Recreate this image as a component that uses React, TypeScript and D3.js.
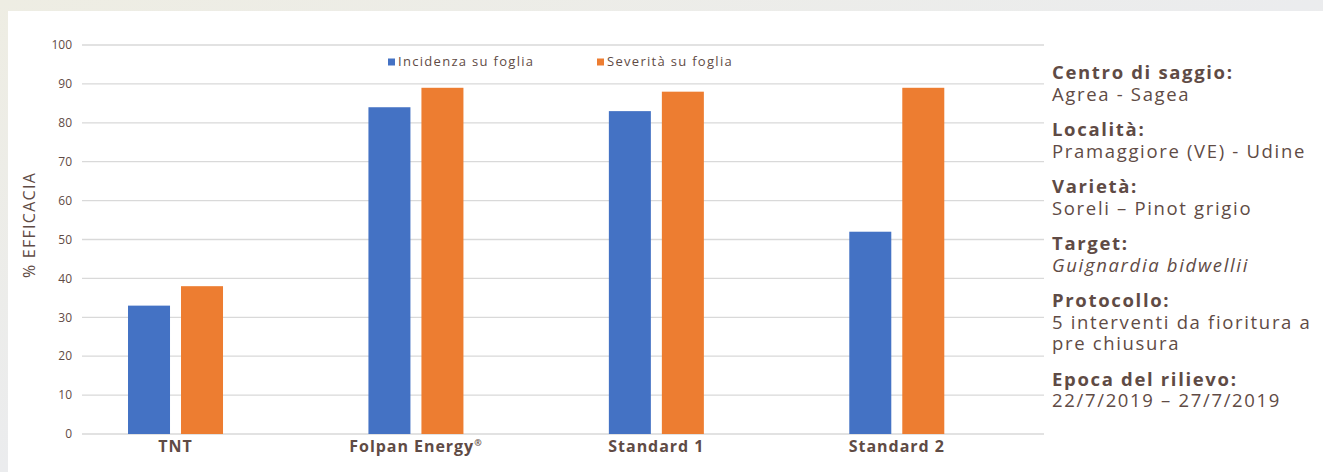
import * as d3 from "d3";

// chart data
const categories = ["TNT", "Folpan Energy", "Standard 1", "Standard 2"];
const seriesNames = ["Incidenza su foglia", "Severità su foglia"];
const incidenza = [33, 84, 83, 52];
const severita = [38, 89, 88, 89];
const seriesColors = ["#4472c4", "#ed7d31"];

// side notes
const noteTitles = ["Centro di saggio:", "Località:", "Varietà:", "Target:", "Protocollo:", "Epoca del rilievo:"];
const noteBodies = [
  ["Agrea - Sagea"],
  ["Pramaggiore (VE) - Udine"],
  ["Soreli – Pinot grigio"],
  ["Guignardia bidwellii"],
  ["5 interventi da fioritura a", "pre chiusura"],
  ["22/7/2019 – 27/7/2019"],
];

const W = 1323;
const H = 472;
const textColor = "#5f4b45";
const font = "'Open Sans', Lato, sans-serif";

const App = () => {
  const y = d3.scaleLinear().domain([0, 100]).range([434, 45]);
  const x = d3.scaleBand<string>().domain(categories).range([55.3, 1017]);
  const xs = d3
    .scaleBand<string>()
    .domain(seriesNames)
    .range([-53, 53])
    .paddingInner(0.2075)
    .paddingOuter(0.10375);

  const values = [incidenza, severita];
  const ticks = y.ticks(10);

  let lineY = 79;
  const notes: { text: string; bold: boolean; italic: boolean; y: number }[] = [];
  noteTitles.forEach((t, i) => {
    notes.push({ text: t, bold: true, italic: false, y: lineY });
    noteBodies[i].forEach((b) => {
      lineY += 21.5;
      notes.push({ text: b, bold: false, italic: i === 3, y: lineY });
    });
    lineY += 35.5;
  });

  return (
    <svg
      width={W}
      height={H}
      style={{ position: "absolute", left: 0, top: 0 }}
      fontFamily={font}
    >
      <defs>
        <linearGradient id="bg" x1="0" y1="0" x2="1" y2="1">
          <stop offset="0" stopColor="#eeede3" />
          <stop offset="0.5" stopColor="#ebecee" />
          <stop offset="1" stopColor="#f1efe2" />
        </linearGradient>
      </defs>
      <rect x={0} y={0} width={W} height={H} fill="url(#bg)" />
      <rect x={8} y={11} width={W - 8} height={H - 11} fill="#ffffff" />

      {/* gridlines */}
      {ticks.map((t) => (
        <g key={t}>
          <line x1={82} x2={1044} y1={y(t)} y2={y(t)} stroke="#d9d9d9" strokeWidth={1.3} />
          <text x={72} y={y(t)} dy="0.35em" textAnchor="end" fontSize={12} fill={textColor}>
            {t}
          </text>
        </g>
      ))}

      {/* bars */}
      {categories.map((c, ci) =>
        seriesNames.map((s, si) => (
          <rect
            key={c + s}
            x={(x(c) ?? 0) + x.bandwidth() / 2 + (xs(s) ?? 0)}
            y={y(values[si][ci])}
            width={xs.bandwidth()}
            height={y(0) - y(values[si][ci])}
            fill={seriesColors[si]}
          />
        ))
      )}

      {/* category labels */}
      {categories.map((c) => (
        <text
          key={c}
          x={(x(c) ?? 0) + x.bandwidth() / 2}
          y={452}
          textAnchor="middle"
          fontSize={16}
          fontWeight="bold"
          letterSpacing="0.06em"
          fill={textColor}
        >
          {c}
          {c === "Folpan Energy" ? (
            <tspan fontSize={9} dy={-6}>
              ®
            </tspan>
          ) : null}
        </text>
      ))}

      {/* y axis title */}
      <text
        transform="translate(35,225) rotate(-90)"
        textAnchor="middle"
        fontSize={16}
        letterSpacing="0.08em"
        fill={textColor}
      >
        % EFFICACIA
      </text>

      {/* legend */}
      {seriesNames.map((s, i) => {
        const lx = i === 0 ? 388 : 597;
        return (
          <g key={s}>
            <rect x={lx} y={58.5} width={7} height={7} fill={seriesColors[i]} />
            <text x={lx + 10} y={66} fontSize={13} letterSpacing="0.1em" fill={textColor}>
              {s}
            </text>
          </g>
        );
      })}

      {/* side notes */}
      {notes.map((n, i) => (
        <text
          key={i}
          x={1052}
          y={n.y}
          fontSize={18.5}
          fontWeight={n.bold ? "bold" : 500}
          fontStyle={n.italic ? "italic" : "normal"}
          letterSpacing="0.09em"
          fill={textColor}
        >
          {n.text}
        </text>
      ))}
    </svg>
  );
};

export default App;
